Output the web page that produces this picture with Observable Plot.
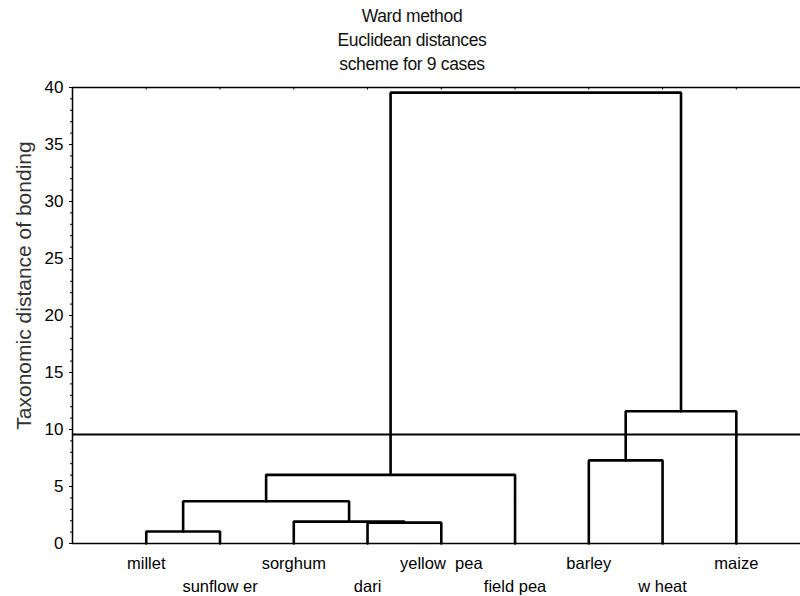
<!DOCTYPE html>
<html><head><meta charset="utf-8">
<script src="https://cdn.jsdelivr.net/npm/d3@7"></script>
<script src="https://cdn.jsdelivr.net/npm/@observablehq/plot@0.6"></script>
<style>
body{margin:0;background:#fff;font-family:"Liberation Sans",Arial,sans-serif;}
#wrap{position:relative;width:800px;height:596px;overflow:hidden;}
#title{position:absolute;left:12px;top:0;width:800px;text-align:center;font-size:17.5px;line-height:24px;padding-top:4px;color:#111;letter-spacing:-0.35px;}
#chart{position:absolute;left:0;top:0;}
svg text{white-space:pre;}
</style></head><body>
<div id="wrap"><div id="chart"></div><div id="title"></div></div>
<script>
const titleLines = ["Ward method", "Euclidean distances", "scheme for 9 cases"];
const leaves = ["millet", "sunflow er", "sorghum", "dari", "yellow  pea", "field pea", "barley", "w heat", "maize"];
// linkage: clusters 0..8 are leaves, merge k creates cluster 9+k
const mergeA = [0, 3, 2, 9, 12, 6, 14, 13];
const mergeB = [1, 4, 10, 11, 5, 7, 8, 15];
const mergeHeight = [1.05, 1.83, 1.92, 3.70, 6.02, 7.29, 11.6, 39.55];
const cutHeight = 9.56;
const yTicks = [0, 5, 10, 15, 20, 25, 30, 35, 40];
const yLabel = "Taxonomic distance of bonding";

document.getElementById("title").innerHTML = titleLines.join("<br>");

// node positions
const pos = leaves.map((d, i) => i + 1);
const hgt = leaves.map(() => 0);
const segs = [];
mergeA.forEach((a, k) => {
  const b = mergeB[k], H = mergeHeight[k];
  segs.push({id: k, x: pos[a], y: hgt[a]});
  segs.push({id: k, x: pos[a], y: H});
  segs.push({id: k, x: pos[b], y: H});
  segs.push({id: k, x: pos[b], y: hgt[b]});
  pos.push((pos[a] + pos[b]) / 2);
  hgt.push(H);
});
const leafData = leaves.map((name, i) => ({name, x: i + 1, row: i % 2}));

const chart = Plot.plot({
  width: 800, height: 596,
  marginLeft: 72, marginRight: 0, marginTop: 87, marginBottom: 53,
  style: {fontFamily: "'Liberation Sans', Arial, sans-serif", color: "#000", background: "transparent"},
  x: {domain: [0, 9.87], axis: null},
  y: {domain: [0, 40]},
  marks: [
    Plot.axisY({ticks: d3.range(0, 41, 1), tickSize: 2, tickFormat: () => "", strokeWidth: 1, label: null}),
    Plot.axisY({ticks: yTicks, tickSize: 3, tickPadding: 6, fontSize: 17, label: null, tickFormat: d => d}),
    Plot.ruleX([0], {y1: 0, y2: 40, strokeWidth: 1.5}),
    Plot.ruleY([40], {strokeWidth: 1.5}),
    Plot.ruleY([0], {strokeWidth: 1.5}),
    Plot.ruleX(leaves.map((d, i) => i + 1), {y1: 40, y2: 39.78, strokeWidth: 1}),
    Plot.ruleY([cutHeight], {strokeWidth: 2.2}),
    Plot.line(segs, {x: "x", y: "y", z: "id", stroke: "#000", strokeWidth: 2.6, strokeLinejoin: "miter", curve: "linear"}),
    Plot.text(leafData.filter(d => d.row === 0), {x: "x", y: 0, text: "name", dy: 20, fontSize: 16.5, lineAnchor: "middle"}),
    Plot.text(leafData.filter(d => d.row === 1), {x: "x", y: 0, text: "name", dy: 43, fontSize: 16.5, lineAnchor: "middle"}),
    Plot.text([yLabel], {frameAnchor: "left", textAnchor: "middle", lineAnchor: "middle", dx: -48, dy: -30, rotate: -90, fontSize: 21, fill: "#333"})
  ]
});
document.getElementById("chart").appendChild(chart);
</script>
</body></html>
